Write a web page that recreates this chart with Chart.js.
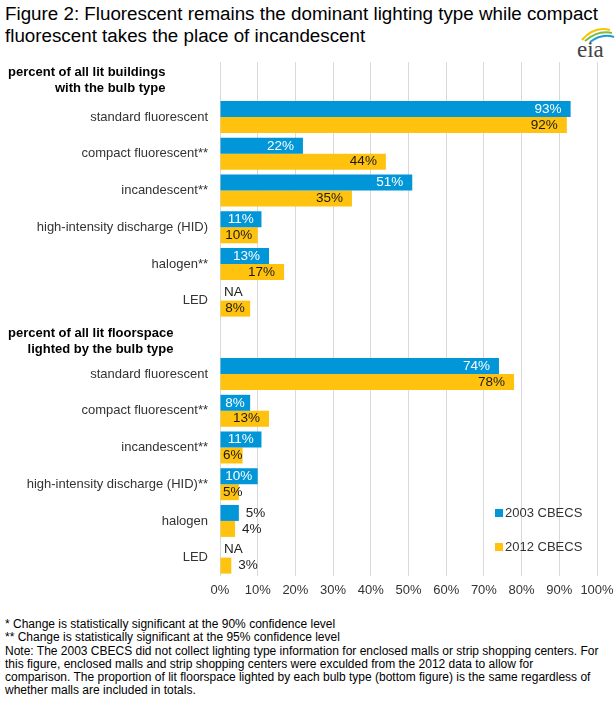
<!DOCTYPE html>
<html>
<head>
<meta charset="utf-8">
<script src="https://cdn.jsdelivr.net/npm/chart.js@4.4.0/dist/chart.umd.min.js"></script>
<style>
  body { margin: 0; background: #fff; font-family: "Liberation Sans", Arial, sans-serif; }
  #page { position: relative; width: 615px; height: 706px; overflow: hidden; }
  #title { position: absolute; left: 5px; top: 3px; font-size: 18.8px; line-height: 22px; color: #000; }
  #logo { position: absolute; left: 574px; top: 22px; }
  #wrap { position: absolute; left: 0; top: 50px; width: 615px; height: 560px; }
  #notes { position: absolute; left: 5px; top: 618px; width: 612px; font-size: 12px; line-height: 13.3px; color: #000; white-space: nowrap; }
</style>
</head>
<body>
<div id="page">
  <div id="title">Figure 2: Fluorescent remains the dominant lighting type while compact<br>fluorescent takes the place of incandescent</div>
  <svg id="logo" width="41" height="40" viewBox="0 0 41 40">
    <path d="M8 18 Q20 4 36 8" stroke="#F6C500" stroke-width="2" fill="none"/>
    <path d="M11 19 Q24 8 38 11" stroke="#7DBB42" stroke-width="2" fill="none"/>
    <path d="M16 20 Q28 11 40 15" stroke="#1E9AD6" stroke-width="2" fill="none"/>
    <text x="3" y="35" font-family="Liberation Serif, serif" font-size="23" fill="#444">eia</text>
  </svg>
  <div id="wrap"><canvas id="chart"></canvas></div>
  <div id="notes">* Change is statistically significant at the 90% confidence level<br>** Change is statistically significant at the 95% confidence level<br>Note: The 2003 CBECS did not collect lighting type information for enclosed malls or strip shopping centers. For<br>this figure, enclosed malls and strip shopping centers were exculded from the 2012 data to allow for<br>comparison. The proportion of lit floorspace lighted by each bulb type (bottom figure) is the same regardless of<br>whether malls are included in totals.</div>
</div>
<script>
"use strict";
// data
let buildingHeading = ["percent of all lit buildings", "with the bulb type"];
let floorspaceHeading = ["percent of all lit floorspace", "lighted by the bulb type"];
let buildingTypes = ["standard fluorescent", "compact fluorescent**", "incandescent**", "high-intensity discharge (HID)", "halogen**", "LED"];
let floorspaceTypes = ["standard fluorescent", "compact fluorescent**", "incandescent**", "high-intensity discharge (HID)**", "halogen", "LED"];
let buildings2003 = [93, 22, 51, 11, 13, null];
let buildings2012 = [92, 44, 35, 10, 17, 8];
let floorspace2003 = [74, 8, 11, 10, 5, null];
let floorspace2012 = [78, 13, 6, 5, 4, 3];
let seriesNames = ["2003 CBECS", "2012 CBECS"];
let xTicks = [0, 10, 20, 30, 40, 50, 60, 70, 80, 90, 100];

// build the category list with an empty row for each heading
let labels = [""].concat(buildingTypes, [""], floorspaceTypes);
let values2003 = [null].concat(buildings2003, [null], floorspace2003);
let values2012 = [null].concat(buildings2012, [null], floorspace2012);
let headings = [buildingHeading, floorspaceHeading];
let headingRows = [0, buildingTypes.length + 1];

const BLUE = "#0096D7";
const YELLOW = "#FFC20E";
const FONT = "Liberation Sans, Arial, sans-serif";

// labels that Excel put outside the bar end
function isOutside(datasetIndex, value) {
  if (value === null) return true;
  if (datasetIndex === 0) return value <= 5;
  return value < 5;
}

const labelPlugin = {
  id: "valueLabels",
  afterDatasetsDraw(chart) {
    let ctx = chart.ctx;
    let left = chart.scales.x.getPixelForValue(0);
    ctx.save();
    ctx.font = "13.5px " + FONT;
    ctx.textBaseline = "middle";
    ctx.textAlign = "left";
    chart.data.datasets.forEach(function (ds, di) {
      let meta = chart.getDatasetMeta(di);
      meta.data.forEach(function (bar, i) {
        let v = ds.data[i];
        if (labels[i] === "") return;
        let text = v === null ? "NA" : v + "%";
        let w = ctx.measureText(text).width;
        let end = v === null ? left : bar.x;
        if (isOutside(di, v)) {
          ctx.fillStyle = "#222";
          ctx.fillText(text, v === null ? left + 4 : end + 7, bar.y);
        } else {
          let pad = Math.max(0, Math.min(9, (end - left - w) / 2));
          let x = Math.max(end - pad - w, left + 3);
          ctx.fillStyle = di === 0 ? "#fff" : "#1a1a1a";
          ctx.fillText(text, x, bar.y);
        }
      });
    });
    ctx.restore();
  }
};

const headingPlugin = {
  id: "headings",
  afterDraw(chart) {
    let ctx = chart.ctx;
    let y = chart.scales.y;
    ctx.save();
    ctx.font = "bold 13px " + FONT;
    ctx.fillStyle = "#000";
    ctx.textBaseline = "middle";
    ctx.textAlign = "right";
    headings.forEach(function (lines, h) {
      let cy = y.getPixelForValue(headingRows[h]) + (h === 0 ? 0 : 4);
      let blockW = Math.max.apply(null, lines.map(function (l) { return ctx.measureText(l).width; }));
      lines.forEach(function (l, k) {
        ctx.fillText(l, 8 + blockW, cy - 7.5 + k * 15.5);
      });
    });
    ctx.restore();
  }
};

const legendPlugin = {
  id: "sideLegend",
  afterDraw(chart) {
    let ctx = chart.ctx;
    let top = chart.canvas.parentNode.offsetTop;
    let rows = [513, 547];
    ctx.save();
    ctx.font = "13px " + FONT;
    ctx.textBaseline = "middle";
    ctx.textAlign = "left";
    chart.data.datasets.forEach(function (ds, i) {
      let cy = rows[i] - top;
      ctx.fillStyle = ds.backgroundColor;
      ctx.fillRect(495, cy - 4, 8, 8);
      ctx.fillStyle = "#333";
      ctx.fillText(ds.label, 505, cy);
    });
    ctx.restore();
  }
};

let ctx = document.getElementById("chart").getContext("2d");
let myChart = new Chart(ctx, {
  type: "bar",
  data: {
    labels: labels,
    datasets: [
      { label: seriesNames[0], data: values2003, backgroundColor: BLUE, categoryPercentage: 0.87, barPercentage: 1.0 },
      { label: seriesNames[1], data: values2012, backgroundColor: YELLOW, categoryPercentage: 0.87, barPercentage: 1.0 }
    ]
  },
  options: {
    indexAxis: "y",
    responsive: true,
    maintainAspectRatio: false,
    animation: false,
    layout: { padding: { top: 12, right: 18, bottom: 0, left: 0 } },
    plugins: {
      legend: { display: false },
      tooltip: { enabled: false }
    },
    scales: {
      x: {
        min: 0,
        max: 100,
        afterBuildTicks: function (scale) {
          scale.ticks = xTicks.map(function (v) { return { value: v }; });
        },
        afterFit: function (scale) {
          scale.height = 34;
          scale.paddingLeft = 0;
          scale.paddingRight = 0;
        },
        grid: { color: "#D9D9D9", drawTicks: false },
        border: { display: false },
        ticks: {
          padding: 7,
          maxRotation: 0,
          minRotation: 0,
          autoSkip: false,
          color: "#333",
          font: { family: FONT, size: 13 },
          callback: function (v) { return v + "%"; }
        }
      },
      y: {
        afterFit: function (scale) {
          scale.width = 220;
          scale.paddingTop = 0;
          scale.paddingBottom = 0;
        },
        grid: { display: false, drawTicks: false },
        border: { display: false },
        ticks: {
          padding: 12,
          color: "#333",
          font: { family: FONT, size: 13 },
          autoSkip: false
        }
      }
    }
  },
  plugins: [labelPlugin, headingPlugin, legendPlugin]
});
</script>
</body>
</html>
